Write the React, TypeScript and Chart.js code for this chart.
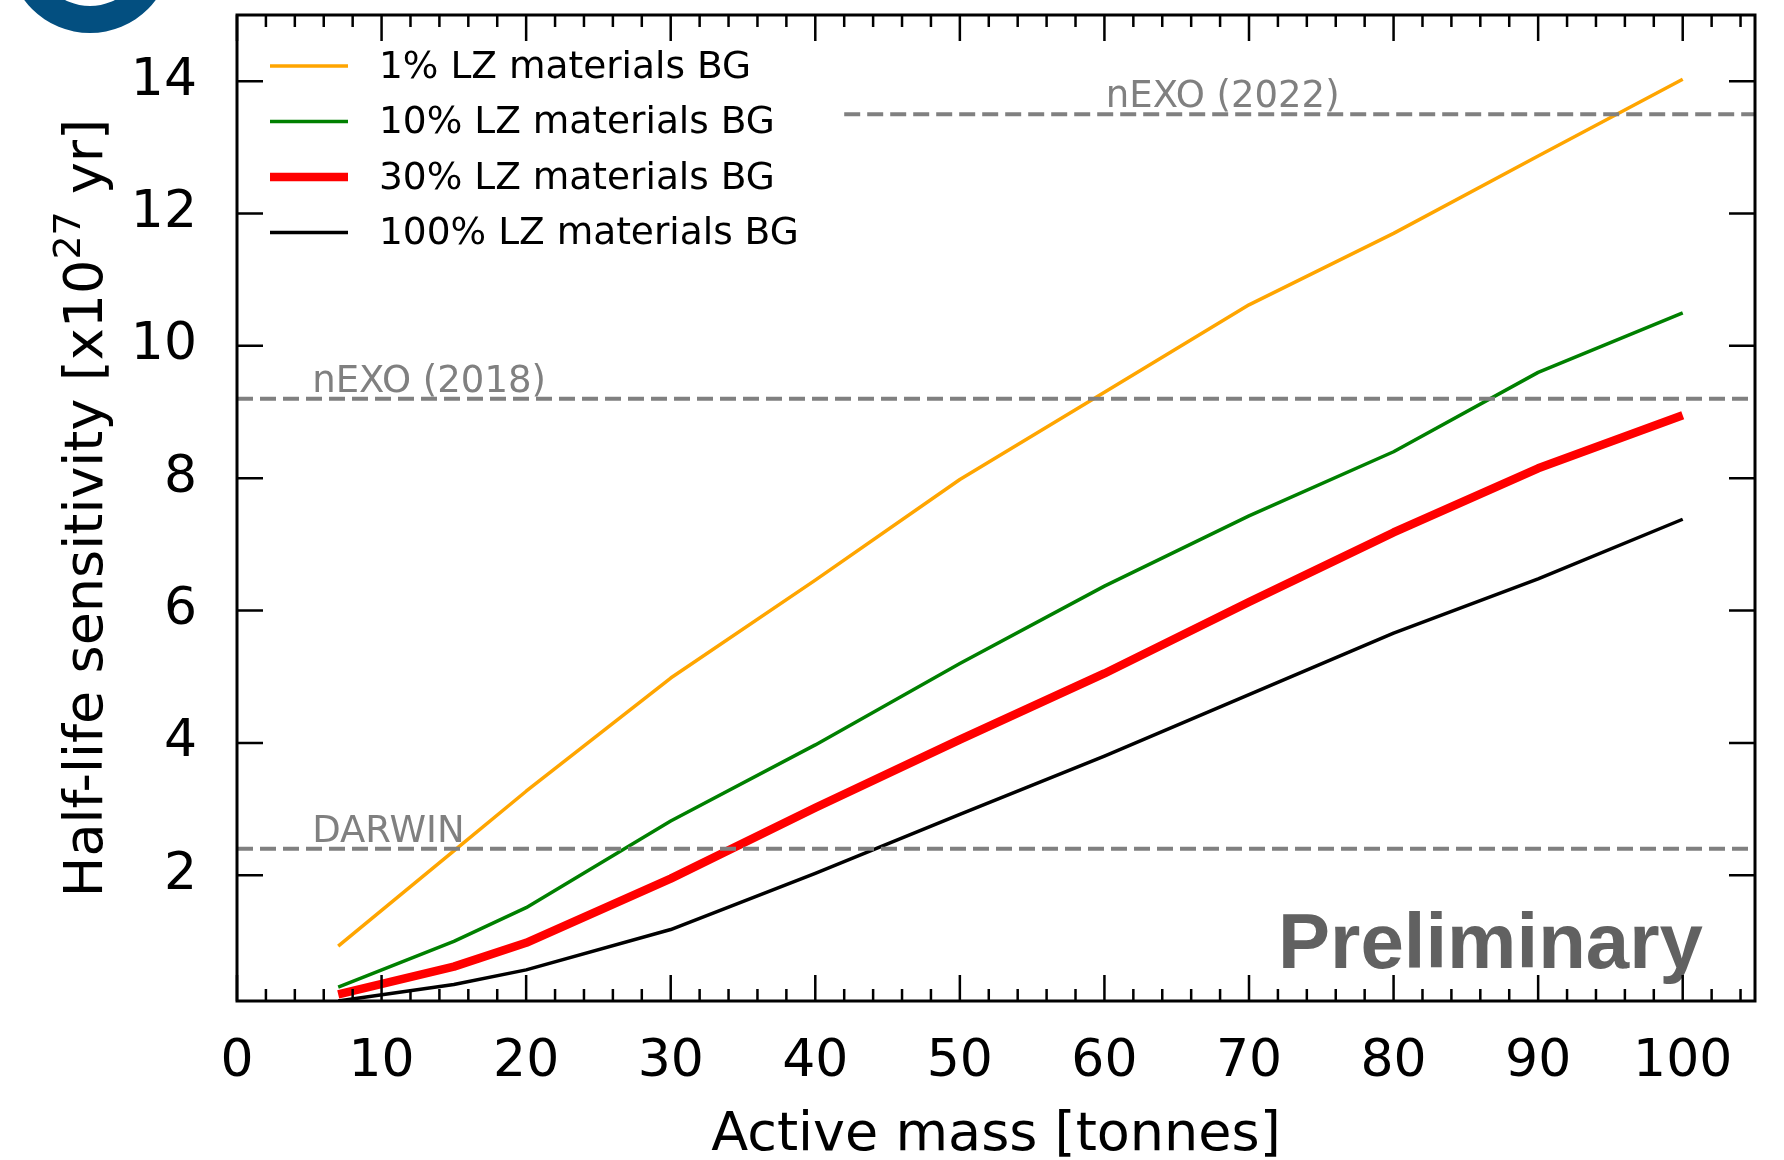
import React, { useEffect, useRef } from 'react';
import { Chart, registerables } from 'chart.js';

Chart.register(...registerables);

// ---- data ----
const massTonnes = [7, 15, 20, 30, 40, 50, 60, 70, 80, 90, 100];
const sens1pct = [0.93, 2.37, 3.27, 4.98, 6.46, 7.98, 9.3, 10.62, 11.7, 12.87, 14.03];
const sens10pct = [0.31, 1.0, 1.51, 2.82, 3.97, 5.2, 6.37, 7.43, 8.4, 9.6, 10.5];
const sens30pct = [0.2, 0.62, 0.98, 1.95, 3.02, 4.05, 5.05, 6.13, 7.18, 8.15, 8.95];
const sens100pct = [0.1, 0.35, 0.57, 1.18, 2.03, 2.92, 3.8, 4.73, 5.66, 6.48, 7.38];

const seriesLabels = ['1% LZ materials BG', '10% LZ materials BG', '30% LZ materials BG', '100% LZ materials BG'];
const seriesColors = ['#ffa500', '#008000', '#ff0000', '#000000'];
const seriesWidths = [3.5, 3.5, 8.5, 3.5];

const refNames = ['nEXO (2022)', 'nEXO (2018)', 'DARWIN'];
const refValues = [13.5, 9.2, 2.4];
const refStarts = [42, 0, 0];
const refLabelX = [60.1, 5.2, 5.2];

const xMin = 0;
const xMax = 105;
const yMin = 0.1;
const yMax = 15;
const xMajorTicks = [0, 10, 20, 30, 40, 50, 60, 70, 80, 90, 100];
const xMinorTicks = [2, 4, 6, 8, 12, 14, 16, 18, 22, 24, 26, 28, 32, 34, 36, 38, 42, 44, 46, 48, 52, 54, 56, 58, 62, 64, 66, 68, 72, 74, 76, 78, 82, 84, 86, 88, 92, 94, 96, 98, 102, 104];
const yMajorTicks = [2, 4, 6, 8, 10, 12, 14];

const xTitle = 'Active mass [tonnes]';
const yTitleMain = 'Half-life sensitivity [x10';
const yTitleSup = '27';
const yTitleEnd = ' yr]';
const watermark = 'Preliminary';

const FONT = '"DejaVu Sans", sans-serif';

const curveSeries = [sens1pct, sens10pct, sens30pct, sens100pct];

const decorPlugin = {
  id: 'decor',
  afterDraw(chart: any) {
    const { ctx, chartArea: a, scales } = chart;
    const x = scales.x;
    const y = scales.y;
    ctx.save();

    // reference labels
    ctx.font = `37px ${FONT}`;
    ctx.fillStyle = '#808080';
    ctx.textAlign = 'left';
    ctx.textBaseline = 'alphabetic';
    refNames.forEach((n, i) => {
      ctx.fillText(n, x.getPixelForValue(refLabelX[i]), y.getPixelForValue(refValues[i]) - 7);
    });

    // Preliminary watermark
    ctx.font = `bold 78px "Liberation Sans", Arial, sans-serif`;
    ctx.fillStyle = '#616161';
    ctx.fillText(watermark, 1278, 968);

    // frame
    ctx.strokeStyle = '#000';
    ctx.lineWidth = 3;
    ctx.strokeRect(a.left, a.top, a.right - a.left, a.bottom - a.top);

    // inward ticks
    ctx.lineWidth = 2.5;
    ctx.beginPath();
    const xt = (v: number, len: number) => {
      const px = x.getPixelForValue(v);
      ctx.moveTo(px, a.bottom);
      ctx.lineTo(px, a.bottom - len);
      ctx.moveTo(px, a.top);
      ctx.lineTo(px, a.top + len);
    };
    xMajorTicks.forEach((v) => xt(v, 26));
    xMinorTicks.forEach((v) => xt(v, 12));
    yMajorTicks.forEach((v) => {
      const py = y.getPixelForValue(v);
      ctx.moveTo(a.left, py);
      ctx.lineTo(a.left + 26, py);
      ctx.moveTo(a.right, py);
      ctx.lineTo(a.right - 26, py);
    });
    ctx.stroke();

    // legend
    const legendRowY = [66, 121.5, 177, 232.5];
    ctx.font = `37.5px ${FONT}`;
    ctx.textBaseline = 'middle';
    ctx.textAlign = 'left';
    seriesLabels.forEach((lab, i) => {
      ctx.strokeStyle = seriesColors[i];
      ctx.lineWidth = seriesWidths[i];
      ctx.beginPath();
      ctx.moveTo(270, legendRowY[i]);
      ctx.lineTo(348, legendRowY[i]);
      ctx.stroke();
      ctx.fillStyle = '#000';
      ctx.fillText(lab, 379, legendRowY[i] + 2);
    });

    // x title
    ctx.font = `54px ${FONT}`;
    ctx.fillStyle = '#000';
    ctx.textAlign = 'center';
    ctx.textBaseline = 'alphabetic';
    ctx.fillText(xTitle, (a.left + a.right) / 2, 1150);

    // y title with superscript
    ctx.save();
    ctx.translate(102, (a.top + a.bottom) / 2);
    ctx.rotate(-Math.PI / 2);
    ctx.textAlign = 'left';
    ctx.font = `54px ${FONT}`;
    const w1 = ctx.measureText(yTitleMain).width;
    const w3 = ctx.measureText(yTitleEnd).width;
    ctx.font = `38px ${FONT}`;
    const w2 = ctx.measureText(yTitleSup).width;
    const total = w1 + w2 + w3;
    let cx = -total / 2;
    ctx.font = `54px ${FONT}`;
    ctx.fillText(yTitleMain, cx, 0);
    cx += w1;
    ctx.font = `38px ${FONT}`;
    ctx.fillText(yTitleSup, cx, -22);
    cx += w2;
    ctx.font = `54px ${FONT}`;
    ctx.fillText(yTitleEnd, cx, 0);
    ctx.restore();

    // cropped panel badge (top-left)
    ctx.fillStyle = '#034f80';
    ctx.beginPath();
    ctx.arc(90, -49, 82, 0, Math.PI * 2);
    ctx.arc(90, -49, 55, 0, Math.PI * 2, true);
    ctx.fill('evenodd');

    ctx.restore();
  },
};

export default function App() {
  const ref = useRef<HTMLCanvasElement | null>(null);

  useEffect(() => {
    document.body.style.margin = '0';
    const canvas = ref.current;
    if (!canvas) return;

    const refDatasets = refNames.map((n, i) => ({
      label: n,
      data: [
        { x: refStarts[i], y: refValues[i] },
        { x: xMax, y: refValues[i] },
      ],
      borderColor: '#808080',
      borderWidth: 4,
      borderDash: [16, 7],
      pointRadius: 0,
      fill: false,
      tension: 0,
      order: 0,
    }));

    const curveDatasets = seriesLabels.map((lab, i) => ({
      label: lab,
      data: massTonnes.map((m, k) => ({ x: m, y: curveSeries[i][k] })),
      borderColor: seriesColors[i],
      borderWidth: seriesWidths[i],
      pointRadius: 0,
      fill: false,
      tension: 0,
      borderJoinStyle: 'round' as const,
      borderCapStyle: 'butt' as const,
      order: 1,
    }));

    const chart = new Chart(canvas, {
      type: 'line',
      data: { datasets: [...refDatasets, ...curveDatasets] as any },
      options: {
        animation: false,
        responsive: false,
        devicePixelRatio: 1,
        layout: { padding: { left: 0, right: 29, top: 15, bottom: 0 } },
        plugins: {
          legend: { display: false },
          tooltip: { enabled: false },
        },
        scales: {
          x: {
            type: 'linear',
            min: xMin,
            max: xMax,
            grid: { display: false, drawTicks: false },
            border: { display: false },
            ticks: {
              stepSize: 10,
              includeBounds: false,
              autoSkip: false,
              maxRotation: 0,
              padding: 30,
              color: '#000',
              font: { family: 'DejaVu Sans', size: 52 },
              callback: (v: any) => (xMajorTicks.includes(Number(v)) ? String(v) : ''),
            },
            afterFit: (s: any) => {
              s.height = 159;
              s.paddingLeft = 0;
              s.paddingRight = 0;
            },
          },
          y: {
            type: 'linear',
            min: yMin,
            max: yMax,
            grid: { display: false, drawTicks: false },
            border: { display: false },
            ticks: {
              stepSize: 2,
              includeBounds: false,
              autoSkip: false,
              padding: 40,
              color: '#000',
              font: { family: 'DejaVu Sans', size: 52 },
              callback: (v: any) => (yMajorTicks.includes(Number(v)) ? String(v) : ''),
            },
            afterFit: (s: any) => {
              s.width = 237;
              s.paddingTop = 0;
              s.paddingBottom = 0;
            },
          },
        },
      },
      plugins: [decorPlugin],
    });

    return () => chart.destroy();
  }, []);

  return (
    <div style={{ width: 1784, height: 1160, background: '#fff' }}>
      <canvas ref={ref} width={1784} height={1160} style={{ display: 'block' }} />
    </div>
  );
}
